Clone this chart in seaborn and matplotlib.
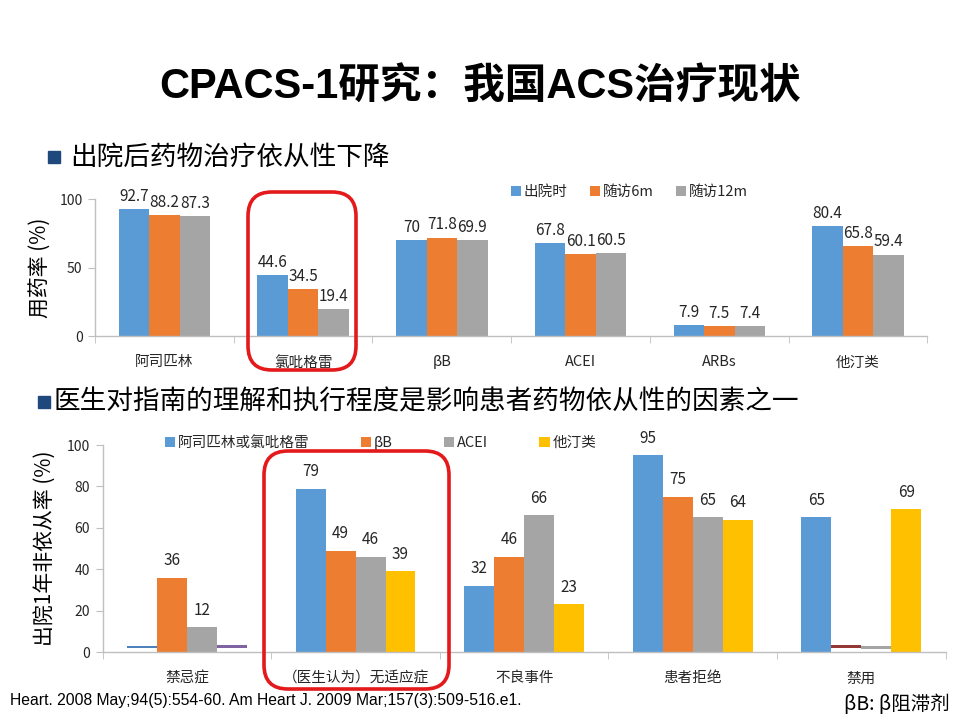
import matplotlib.pyplot as plt
import numpy as np
import pandas as pd
import seaborn as sns
from matplotlib.patches import FancyBboxPatch, Rectangle

# top chart: adherence over time
drugs = ["阿司匹林", "氯吡格雷", "βB", "ACEI", "ARBs", "他汀类"]
periods = ["出院时", "随访6m", "随访12m"]
at_discharge = [92.7, 44.6, 70, 67.8, 7.9, 80.4]
at_6m = [88.2, 34.5, 71.8, 60.1, 7.5, 65.8]
at_12m = [87.3, 19.4, 69.9, 60.5, 7.4, 59.4]

# bottom chart: reasons for non-adherence at 1 year
reasons = ["禁忌症", "（医生认为）无适应症", "不良事件", "患者拒绝", "禁用"]
classes = ["阿司匹林或氯吡格雷", "βB", "ACEI", "他汀类"]
antiplatelet = [np.nan, 79, 32, 95, 65]
beta_blocker = [36, 49, 46, 75, np.nan]
acei = [12, 46, 66, 65, np.nan]
statin = [np.nan, 39, 23, 64, 69]

# small floating stubs drawn in the original where no value was given
stub_cells = [(0, 0), (0, 3), (4, 1), (4, 2)]  # (reason index, class index)
stub_bottom = [1.8, 1.8, 1.8, 1.5]
stub_height = [1.3, 1.5, 1.5, 1.4]
stub_colors = ["#4F81BD", "#8064A2", "#953735", "#A5A5A5"]

top_colors = ["#5B9BD5", "#ED7D31", "#A5A5A5"]
bottom_colors = ["#5B9BD5", "#ED7D31", "#A5A5A5", "#FFC000"]

sns.set_style("white")
plt.rcParams["font.family"] = ["Noto Sans CJK SC", "DejaVu Sans"]
plt.rcParams["axes.unicode_minus"] = False

top_df = pd.DataFrame({
    "drug": drugs * 3,
    "period": [p for p in periods for _ in drugs],
    "rate": at_discharge + at_6m + at_12m,
})
bottom_df = pd.DataFrame({
    "reason": reasons * 4,
    "cls": [c for c in classes for _ in reasons],
    "rate": antiplatelet + beta_blocker + acei + statin,
})

fig = plt.figure(figsize=(9.6, 7.2), dpi=100)
fig.patch.set_facecolor("white")

axis_grey = "#BFBFBF"
text_col = "#262626"


def style_axes(ax, n, yticks):
    for s in ["top", "right"]:
        ax.spines[s].set_visible(False)
    for s in ["left", "bottom"]:
        ax.spines[s].set_color(axis_grey)
        ax.spines[s].set_linewidth(1)
    ax.set_xlim(-0.5, n - 0.5)
    ax.set_yticks(yticks)
    ax.set_xticks(range(n))
    ax.set_xticks(np.arange(-0.5, n, 1), minor=True)
    ax.tick_params(axis="x", which="major", length=0, pad=14, labelsize=10.5,
                   colors=text_col)
    ax.tick_params(axis="x", which="minor", length=5, color=axis_grey,
                   direction="out", bottom=True)
    ax.tick_params(axis="y", length=5, color=axis_grey, direction="out",
                   left=True, labelsize=10, colors=text_col, pad=4)
    ax.set_xlabel("")


# ---- top chart
ax1 = fig.add_axes([0.099, 0.5333, 0.867, 0.1903])
sns.barplot(data=top_df, x="drug", y="rate", hue="period", hue_order=periods,
            palette=top_colors, width=0.66, saturation=1, ax=ax1,
            legend=True, errorbar=None, linewidth=0)
ax1.set_ylim(0, 100)
style_axes(ax1, len(drugs), [0, 50, 100])
ax1.set_ylabel("用药率 (%)", fontsize=15, color="black", labelpad=6)
for cont in ax1.containers:
    ax1.bar_label(cont, labels=[f"{v:g}" for v in cont.datavalues],
                  padding=3, fontsize=11, color=text_col)
ax1.legend(loc="center left", bbox_to_anchor=(0.526, 0.733),
           bbox_transform=fig.transFigure, ncol=3, frameon=False,
           fontsize=10.5, handlelength=0.7, handleheight=0.7,
           handletextpad=0.2, columnspacing=1.5, borderaxespad=0)

# ---- bottom chart
ax2 = fig.add_axes([0.107, 0.0944, 0.878, 0.2875])
width2 = 0.71
sns.barplot(data=bottom_df, x="reason", y="rate", hue="cls", hue_order=classes,
            palette=bottom_colors, width=width2, saturation=1, ax=ax2,
            legend=True, errorbar=None, linewidth=0)
ax2.set_ylim(0, 100)
style_axes(ax2, len(reasons), [0, 20, 40, 60, 80, 100])
ax2.set_ylabel("出院1年非依从率 (%)", fontsize=15, color="black", labelpad=8)
for cont in ax2.containers:
    ax2.bar_label(cont, labels=[f"{v:g}" for v in cont.datavalues],
                  padding=6, fontsize=11, color=text_col)
bw = width2 / len(classes)
for (ri, ci), b, h, c in zip(stub_cells, stub_bottom, stub_height, stub_colors):
    ax2.bar(ri - width2 / 2 + bw * (ci + 0.5), h, width=bw, bottom=b,
            color=c, linewidth=0)
ax2.legend(loc="center left", bbox_to_anchor=(0.166, 0.385),
           bbox_transform=fig.transFigure, ncol=4, frameon=False,
           fontsize=10.5, handlelength=0.7, handleheight=0.7,
           handletextpad=0.2, columnspacing=3.5, borderaxespad=0)

# ---- slide text
fig.text(0.5, 0.878, "CPACS-1研究：我国ACS治疗现状", ha="center", va="center",
         fontsize=30, fontweight="bold", color="black",
         family=["Liberation Sans", "Noto Sans CJK SC"])
fig.patches.append(Rectangle((48 / 960, 1 - 163 / 720), 12 / 960, 12 / 720,
                             transform=fig.transFigure, color="#1F497D"))
fig.text(70 / 960, 1 - 157 / 720, "出院后药物治疗依从性下降", ha="left",
         va="center", fontsize=19.2, color="black")
fig.patches.append(Rectangle((38 / 960, 1 - 408 / 720), 12 / 960, 12 / 720,
                             transform=fig.transFigure, color="#1F497D"))
fig.text(54 / 960, 1 - 402 / 720, "医生对指南的理解和执行程度是影响患者药物依从性的因素之一",
         ha="left", va="center", fontsize=19.2, color="black")
fig.text(10 / 960, 1 - 700 / 720,
         "Heart. 2008 May;94(5):554-60. Am Heart J. 2009 Mar;157(3):509-516.e1.",
         ha="left", va="center", fontsize=11.3, color="black",
         family=["Liberation Sans", "DejaVu Sans"])
fig.text(950 / 960, 1 - 705 / 720, "βB: β阻滞剂", ha="right", va="center",
         fontsize=14, color="black")

# red highlight boxes
for x0, y0, x1, y1 in [(248, 192, 356, 370), (264, 451, 449, 689)]:
    fig.patches.append(FancyBboxPatch(
        (x0 / 960, 1 - y1 / 720), (x1 - x0) / 960, (y1 - y0) / 720,
        boxstyle="round,pad=0,rounding_size=0.025",
        transform=fig.transFigure, fill=False, edgecolor="#E3191C",
        linewidth=2.6, mutation_aspect=960 / 720))

fig.savefig("out.png", dpi=100)
